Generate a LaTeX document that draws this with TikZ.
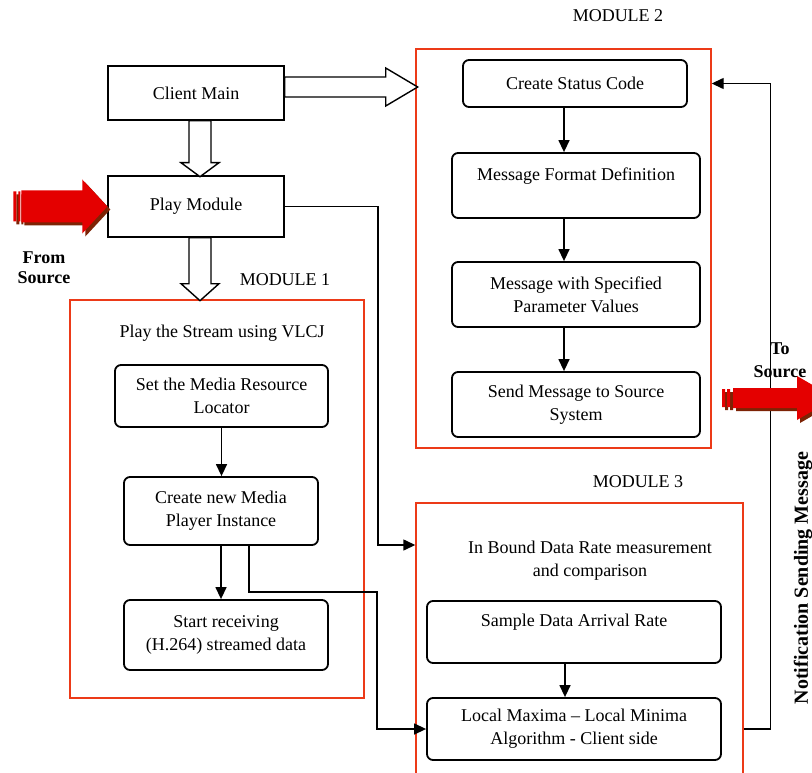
\documentclass[tikz,border=0pt]{standalone}
\usepackage{fontspec}
\setmainfont{Liberation Serif}
\usetikzlibrary{arrows.meta}
\definecolor{modred}{RGB}{236,58,24}
\definecolor{arrowred}{RGB}{228,0,0}
\definecolor{arrowshade}{RGB}{125,35,5}

\begin{document}
\begin{tikzpicture}[x=1pt,y=-1pt,>={Triangle[length=12pt,width=11pt]},
  font=\fontsize{18}{23}\selectfont,
  plain box/.style={draw,line width=1.4pt,minimum width=176pt,inner sep=0pt},
  proc box/.style={draw,line width=1.8pt,rounded corners=6pt,align=center,inner sep=0pt},
  module box/.style={draw=modred,line width=1.4pt,inner sep=0pt},
  hollow/.style={draw,fill=white,line width=1.4pt,line join=miter},
  link/.style={->,line width=1.4pt},
  side label/.style={font=\fontsize{18}{20}\selectfont\bfseries,align=center}]

  \path[use as bounding box,clip] (0,0) rectangle (812,773);

  % client side
  \node[plain box,minimum height=54pt] (client) at (196,93) {Client Main};
  \node[plain box,minimum height=61pt] (play) at (196,206.5) {Play Module};
  \node[side label] (fromsrc) at (44,268) {From\\Source};

  % module 1
  \node (mod1label) at (285,280) {MODULE 1};
  \node[module box,minimum width=294pt,minimum height=398pt] (mod1) at (217,499) {};
  \node (mod1title) at (222,333) {Play the Stream using VLCJ};
  \node[proc box,minimum width=213pt,minimum height=62pt] (locator) at (221.5,396) {Set the Media Resource\\Locator};
  \node[proc box,minimum width=194pt,minimum height=68pt] (player) at (221,511) {Create new Media\\Player Instance};
  \node[proc box,minimum width=204pt,minimum height=70pt] (receive) at (226,635) {Start receiving\\(H.264) streamed data};

  % module 2
  \node (mod2label) at (618,16) {MODULE 2};
  \node[module box,minimum width=295pt,minimum height=399pt] (mod2) at (563.5,248.5) {};
  \node[proc box,minimum width=224pt,minimum height=47pt] (status) at (575,83.5) {Create Status Code};
  \node[proc box,minimum width=248pt,minimum height=65pt] (format) at (576,185.5) {Message Format Definition\\\mbox{}};
  \node[proc box,minimum width=248pt,minimum height=65pt] (params) at (576,294.5) {Message with Specified\\Parameter Values};
  \node[proc box,minimum width=248pt,minimum height=65pt] (send) at (576,404.5) {Send Message to Source\\System};

  % module 3
  \node (mod3label) at (638,482) {MODULE 3};
  \node[module box,minimum width=327pt,minimum height=287pt] (mod3) at (579.5,646.5) {};
  \node[align=center] (mod3title) at (590,561) {In Bound Data Rate measurement\\and comparison};
  \node[proc box,minimum width=294pt,minimum height=62pt] (sample) at (574,632) {Sample Data Arrival Rate\\\mbox{}};
  \node[proc box,minimum width=294pt,minimum height=62pt] (localmax) at (574,729) {Local Maxima -- Local Minima\\Algorithm - Client side};

  \node[side label] (tosrc) at (780,360) {To\\[3pt]Source};
  \node[side label,font=\fontsize{20}{22}\selectfont\bfseries,rotate=90] (notify) at (803,578) {Notification Sending Message};

  % hollow arrows
  \draw[hollow] (client.south) ++(-7,0) -- ++(0,42) -- ++(-8,0) -- ++(19,14) -- ++(19,-14) -- ++(-8,0) -- ++(0,-42) -- cycle;
  \draw[hollow] (play.south) ++(-7,0) -- ++(0,46) -- ++(-8,0) -- ++(19,17) -- ++(19,-17) -- ++(-8,0) -- ++(0,-46) -- cycle;
  \draw[hollow] (client.east) ++(0,-16) -- ++(101,0) -- ++(0,-9) -- ++(32,19) -- ++(-32,19) -- ++(0,-9) -- ++(-101,0) -- cycle;

  % connectors
  \coordinate (c1) at (377,592);
  \coordinate (c2) at (378,545);
  \draw[link] (locator.south) -- (locator.south |- player.north);
  \draw[link] (player.south) -- (player.south |- receive.north);
  \draw[link] ([xshift=28]player.south) |- (c1) |- (localmax.west);
  \draw[link] (play.east) -| (c2) -- (c2 -| mod3.west);
  \draw[link] ([xshift=-11]status.south) -- ([xshift=-11]status.south |- format.north);
  \draw[link] ([xshift=-12]format.south) -- ([xshift=-12]format.south |- params.north);
  \draw[link] ([xshift=-12]params.south) -- ([xshift=-12]params.south |- send.north);
  \draw[link] ([xshift=-9]sample.south) -- ([xshift=-9]sample.south |- localmax.north);
  \draw[link] (localmax.east -| mod3.east) -- ++(27,0) |- (status -| mod2.east);

  % red block arrows
  \begin{scope}[shift={(play.west)}]
    \foreach \d/\c in {3/arrowshade,0/arrowred}
      \fill[\c,shift={(\d,\d)}] (-86,-16) -- (-25,-16) -- (-25,-27) -- (0,0) -- (-25,27) -- (-25,16) -- (-86,16) -- cycle
        (-94,-15) rectangle (-91,15) (-89,-15) rectangle (-87,15);
  \end{scope}
  \begin{scope}[shift={(835,398)}]
    \foreach \d/\c in {3/arrowshade,0/arrowred}
      \fill[\c,shift={(\d,\d)}] (-102,-10) -- (-38,-10) -- (-38,-22) -- (0,0) -- (-38,22) -- (-38,10) -- (-102,10) -- cycle
        (-113,-9) rectangle (-110,9) (-108,-9) rectangle (-105,9);
  \end{scope}
\end{tikzpicture}
\end{document}
